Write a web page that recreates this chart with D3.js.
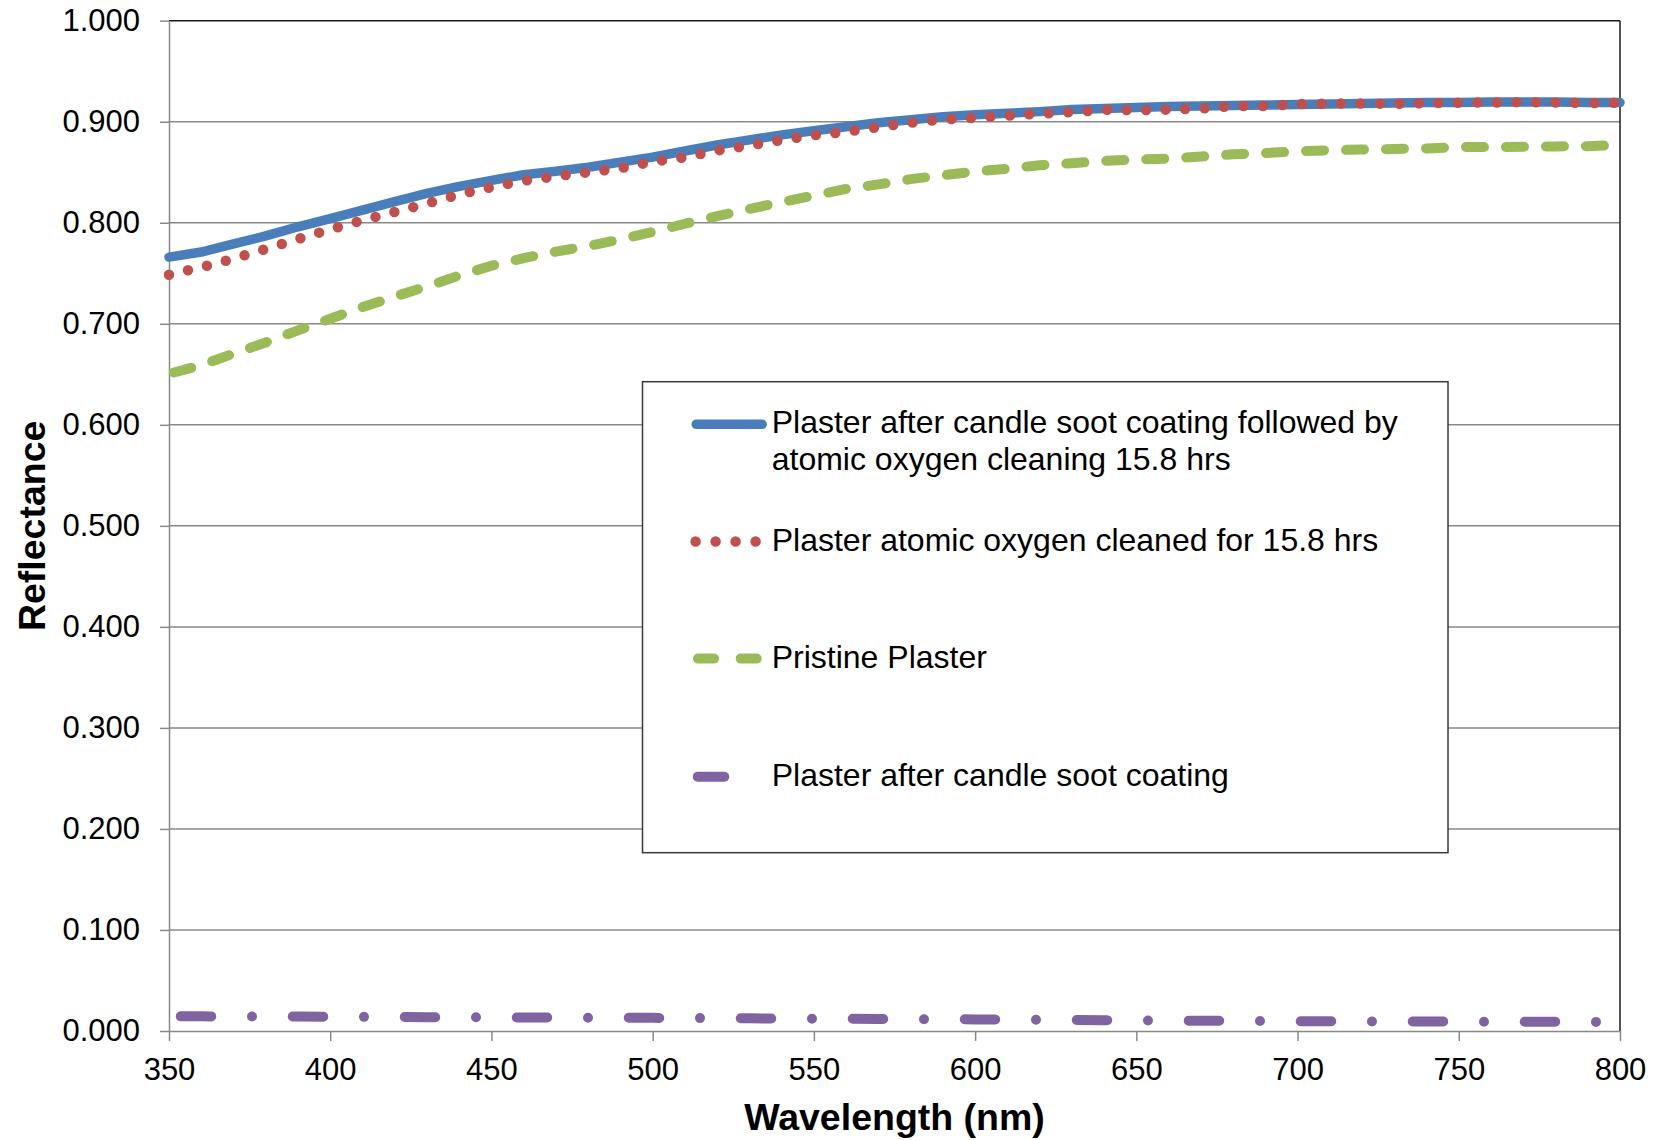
<!DOCTYPE html>
<html><head><meta charset="utf-8">
<script src="https://cdn.jsdelivr.net/npm/d3@7"></script>
<style>
body{margin:0;background:#fff}
svg{display:block}
text{font-family:"Liberation Sans",Arial,sans-serif;fill:#000}
</style>
</head><body>
<svg id="chart" width="1655" height="1140"></svg>
<script>
// ---------- data ----------
const wavelength = [350,360,370,380,390,400,410,420,430,440,450,460,470,480,490,500,510,520,530,540,550,560,570,580,590,600,610,620,630,640,650,660,670,680,690,700,710,720,730,740,750,760,770,780,790,800];
const sootThenAO = [0.766,0.771,0.779,0.787,0.796,0.804,0.8125,0.821,0.829,0.836,0.842,0.8475,0.851,0.855,0.860,0.865,0.871,0.877,0.882,0.887,0.891,0.895,0.899,0.902,0.905,0.907,0.9085,0.910,0.912,0.913,0.914,0.915,0.9155,0.916,0.9165,0.917,0.9175,0.918,0.9185,0.919,0.919,0.9195,0.9195,0.9195,0.919,0.919];
const aoCleaned = [0.7485,0.756,0.7645,0.774,0.784,0.7935,0.8025,0.8107,0.819,0.828,0.8353,0.8415,0.846,0.850,0.854,0.8605,0.8647,0.8715,0.8765,0.8818,0.8867,0.890,0.8947,0.899,0.9022,0.904,0.906,0.908,0.9096,0.9118,0.9115,0.912,0.913,0.9155,0.9155,0.9175,0.918,0.918,0.9178,0.9183,0.9188,0.919,0.9195,0.919,0.9185,0.9188];
const pristine = [0.6505,0.659,0.6705,0.6815,0.6935,0.705,0.7165,0.727,0.737,0.7478,0.7575,0.765,0.7715,0.777,0.7835,0.791,0.799,0.8065,0.8137,0.8205,0.827,0.8335,0.838,0.8432,0.847,0.8507,0.8535,0.857,0.8589,0.8612,0.8625,0.8635,0.8655,0.8677,0.869,0.8706,0.8718,0.8725,0.873,0.8735,0.875,0.875,0.8752,0.8756,0.8758,0.877];
const sootCoated = [0.0145,0.0145,0.0144,0.0143,0.0143,0.0142,0.0140,0.0139,0.0137,0.0136,0.0135,0.0134,0.0133,0.0132,0.0131,0.0130,0.0128,0.0127,0.0125,0.0124,0.0122,0.0121,0.0119,0.0118,0.0116,0.0115,0.0113,0.0111,0.0109,0.0107,0.0105,0.0103,0.0102,0.0100,0.0098,0.0097,0.0096,0.0095,0.0094,0.0094,0.0093,0.0092,0.0092,0.0091,0.0090,0.0090];
const seriesNames = [
  ["Plaster after candle soot coating followed by","atomic oxygen cleaning 15.8 hrs"],
  ["Plaster atomic oxygen cleaned for 15.8 hrs"],
  ["Pristine Plaster"],
  ["Plaster after candle soot coating"]
];
const xTicks = [350,400,450,500,550,600,650,700,750,800];
const yTicks = [0,0.1,0.2,0.3,0.4,0.5,0.6,0.7,0.8,0.9,1.0];
const xTitle = "Wavelength (nm)";
const yTitle = "Reflectance";

// ---------- layout ----------
const L = 169, R = 1620, T = 20.7, B = 1031;
const svg = d3.select("#chart");
const x = d3.scaleLinear().domain([350,800]).range([L,R]);
const y = d3.scaleLinear().domain([0,1]).range([B,T]);
const axisGray = "#898989";

// gridlines
svg.append("g").selectAll("line")
  .data(yTicks.filter(v => v > 0 && v < 1))
  .join("line")
  .attr("x1", L).attr("x2", R)
  .attr("y1", d => y(d)).attr("y2", d => y(d))
  .attr("stroke", axisGray).attr("stroke-width", 1.5);

// plot border (top/right dark)
svg.append("line").attr("x1", L).attr("x2", R).attr("y1", T).attr("y2", T)
  .attr("stroke", "#1a1a1a").attr("stroke-width", 1.5);
svg.append("line").attr("x1", R).attr("x2", R).attr("y1", T).attr("y2", B)
  .attr("stroke", "#1a1a1a").attr("stroke-width", 1.5);

// y axis
const yAxis = svg.append("g").attr("transform", `translate(${L},0)`)
  .call(d3.axisLeft(y).tickValues(yTicks).tickFormat(d3.format(".3f"))
    .tickSize(9).tickSizeOuter(0).tickPadding(20));
yAxis.selectAll("path,line").attr("stroke", axisGray).attr("stroke-width", 1.5);
yAxis.selectAll("text").attr("font-size", 31).attr("font-family", "Liberation Sans, Arial, sans-serif").attr("fill", "#000");

// x axis
const xAxis = svg.append("g").attr("transform", `translate(0,${B})`)
  .call(d3.axisBottom(x).tickValues(xTicks).tickFormat(d3.format("d"))
    .tickSize(10).tickSizeOuter(0).tickPadding(17));
xAxis.selectAll("path,line").attr("stroke", axisGray).attr("stroke-width", 1.5);
xAxis.selectAll("text").attr("font-size", 31).attr("font-family", "Liberation Sans, Arial, sans-serif").attr("fill", "#000");

// titles
svg.append("text").attr("x", (L+R)/2).attr("y", 1130).attr("text-anchor", "middle")
  .attr("font-size", 37.5).attr("font-weight", "bold").text(xTitle);
svg.append("text").attr("transform", `translate(45,${(T+B)/2}) rotate(-90)`)
  .attr("text-anchor", "middle").attr("font-size", 37.5).attr("font-weight", "bold").text(yTitle);

// ---------- series ----------
const styles = [
  {values: sootThenAO, color: "#4a7ebb", width: 9.5, dash: null, offset: 0},
  {values: aoCleaned, color: "#c0504d", width: 10.5, dash: "0,19.5", offset: 0},
  {values: pristine, color: "#9bbb59", width: 10, dash: "18,22", offset: 35},
  {values: sootCoated, color: "#8064a2", width: 10, dash: "30.5,40.75,0,40.75", offset: 100.25}
];
const line = d3.line().x((d,i) => x(wavelength[i])).y(d => y(d));
styles.forEach(s => {
  svg.append("path").datum(s.values)
    .attr("d", line)
    .attr("fill", "none")
    .attr("stroke", s.color)
    .attr("stroke-width", s.width)
    .attr("stroke-linecap", "round")
    .attr("stroke-linejoin", "round")
    .attr("stroke-dasharray", s.dash)
    .attr("stroke-dashoffset", s.offset);
});

// ---------- legend ----------
const lg = svg.append("g");
lg.append("rect").attr("x", 642.5).attr("y", 381.7).attr("width", 805.5).attr("height", 471)
  .attr("fill", "#fff").attr("stroke", "#3a3a3a").attr("stroke-width", 1.5);
const legendY = [424.3, 541.5, 658.6, 776.8];
const legendSample = [
  {x1: 696.2, x2: 762.2, dash: null},
  {x1: 695.6, x2: 755.8, dash: "0,20"},
  {x1: 698, x2: 756.7, dash: "16,26.7"},
  {x1: 697.75, x2: 724.25, dash: null}
];
styles.forEach((s, i) => {
  lg.append("line")
    .attr("x1", legendSample[i].x1).attr("x2", legendSample[i].x2)
    .attr("y1", legendY[i]).attr("y2", legendY[i])
    .attr("stroke", s.color).attr("stroke-width", s.width)
    .attr("stroke-linecap", "round")
    .attr("stroke-dasharray", legendSample[i].dash);
  const t = lg.append("text").attr("x", 771.7).attr("y", legendY[i] + 9).attr("font-size", 32);
  seriesNames[i].forEach((ln, k) => {
    t.append("tspan").attr("x", 771.7).attr("dy", k === 0 ? 0 : 36.7).text(ln);
  });
});
</script>
</body></html>
